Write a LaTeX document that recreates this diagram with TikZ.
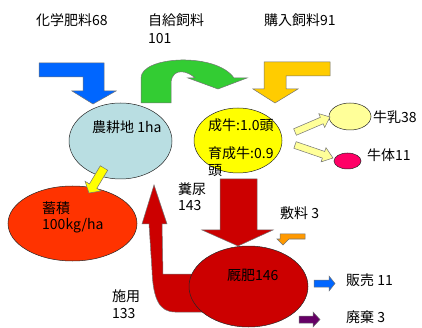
\documentclass[tikz,border=0pt]{standalone}
\usepackage{fontspec}
\setmainfont{Noto Sans CJK JP}
\usetikzlibrary{shapes.geometric,calc}
\definecolor{cBlue}{RGB}{0,102,255}
\definecolor{cGreen}{RGB}{51,204,51}
\definecolor{cGold}{RGB}{255,204,0}
\definecolor{cField}{RGB}{185,222,226}
\definecolor{cYellow}{RGB}{255,255,0}
\definecolor{cCream}{RGB}{255,255,153}
\definecolor{cPink}{RGB}{255,0,102}
\definecolor{cOrRed}{RGB}{255,51,0}
\definecolor{cDark}{RGB}{204,0,0}
\definecolor{cOrange}{RGB}{255,153,0}
\definecolor{cPurple}{RGB}{102,0,102}
\newcommand\blockarr[7]{%
  \coordinate (#7-s) at #2; \coordinate (#7-t) at #3;
  \coordinate (#7-n) at ($(#7-t)!#6!(#7-s)$);
  \draw[#1] ($(#7-s)!#4!90:(#7-t)$) -- ($(#7-n)!#4!-90:(#7-s)$) -- ($(#7-n)!#5!-90:(#7-s)$) -- (#7-t) -- ($(#7-n)!#5!90:(#7-s)$) -- ($(#7-n)!#4!90:(#7-s)$) -- ($(#7-s)!#4!-90:(#7-t)$) -- cycle;}
\begin{document}
\begin{tikzpicture}[x=1pt,y=-1pt,
  blob/.style={ellipse, draw=black!85, line width=0.5pt, inner sep=0pt},
  lbl/.style={anchor=west, inner sep=0pt, font=\fontsize{14}{16}\selectfont},
  arr/.style={draw=black!55, line width=0.5pt, line join=miter}]
\useasboundingbox (0,0) rectangle (422,328);

% input arrows
\draw[arr, fill=cBlue] (39,63) -- (104,63) -- (104,91) -- (116,91) -- (93,104) -- (72,91) -- (83,91) -- (83,77) -- (39,77) -- cycle;
\draw[arr, fill=cGreen] (141,103) -- (141,78) .. controls (141,56) and (216,52) .. (234,78) -- (247,78) -- (218,89) -- (188,78) -- (195,78) .. controls (188,71) and (173,67) .. (171,82) -- (171,103) -- cycle;
\draw[arr, fill=cGold] (330,62) -- (330,76) -- (286,76) -- (286,89) -- (298,89) -- (275,103) -- (253,89) -- (264,89) -- (264,62) -- cycle;

% manure flow arrow (behind ellipses)
\draw[arr, fill=cDark] (220,179) -- (257,179) -- (257,230) -- (273,230) -- (238,246) -- (202,230) -- (220,230) -- cycle;
\draw[arr, fill=cDark] (205,312) -- (175,312) .. controls (160,312) and (153,300) .. (152,270) -- (149,224) -- (142,224) -- (154,185) -- (167,224) -- (162,224) -- (163,274) -- (205,274) -- cycle;

% ellipses
\node[blob, fill=cField, minimum width=103pt, minimum height=76pt] (field) at (120.5,141) {};
\node[blob, fill=cYellow, minimum width=88pt, minimum height=65pt] (cow) at (238,140.5) {};
\node[blob, fill=cCream, minimum width=42pt, minimum height=27pt] (milk) at (350,116.5) {};
\node[blob, fill=cPink, minimum width=27pt, minimum height=16pt] (body) at (347.5,161) {};
\node[blob, fill=cOrRed, minimum width=129pt, minimum height=75pt] (store) at (72.5,223.5) {};
\node[blob, fill=cDark, minimum width=119pt, minimum height=81pt] (manure) at (248.5,286.5) {};

% small arrows
\blockarr{arr, fill=cYellow}{(104,168)}{(89,193)}{4.3pt}{9.4pt}{8pt}{a1}
\blockarr{arr, fill=cCream}{(295,132)}{(330,117)}{3.5pt}{7.5pt}{9pt}{a2}
\blockarr{arr, fill=cCream}{(295,145)}{(333,158)}{3.5pt}{7.5pt}{10pt}{a3}
\draw[arr, fill=cOrange] (280,234) -- (305,234) -- (305,239) -- (289,239) -- (283,245) -- (277,239) -- (280,239) -- cycle;
\blockarr{arr, fill=cBlue}{(314,283.5)}{(335,283.5)}{3.5pt}{7.5pt}{6pt}{a4}
\blockarr{arr, fill=cPurple}{(299,319.5)}{(320,319.5)}{3.5pt}{7.5pt}{7pt}{a5}

% labels
\node[lbl] (t1) at (36,20) {化学肥料68};
\node[lbl] (t2) at (148,20) {自給飼料};
\node[lbl] (t3) at (148,39) {101};
\node[lbl] (t4) at (264,20) {購入飼料91};
\node[lbl] (t5) at (92,127) {農耕地 1ha};
\node[lbl] (t6) at (208,125) {成牛:1.0頭};
\node[lbl] (t7) at (208,153) {育成牛:0.9};
\node[lbl] (t8) at (208,171) {頭};
\node[lbl] (t9) at (373,117) {牛乳38};
\node[lbl] (t10) at (367,155) {牛体11};
\node[lbl] (t11) at (42,208) {蓄積};
\node[lbl] (t12) at (42,226) {100kg/ha};
\node[lbl] (t13) at (178,189) {糞尿};
\node[lbl] (t14) at (178,206) {143};
\node[lbl] (t15) at (280,213) {敷料 3};
\node[lbl] (t16) at (227,275) {厩肥146};
\node[lbl] (t17) at (346,280) {販売 11};
\node[lbl] (t18) at (112,296) {施用};
\node[lbl] (t19) at (112,314) {133};
\node[lbl] (t20) at (346,317) {廃棄 3};
\end{tikzpicture}
\end{document}
